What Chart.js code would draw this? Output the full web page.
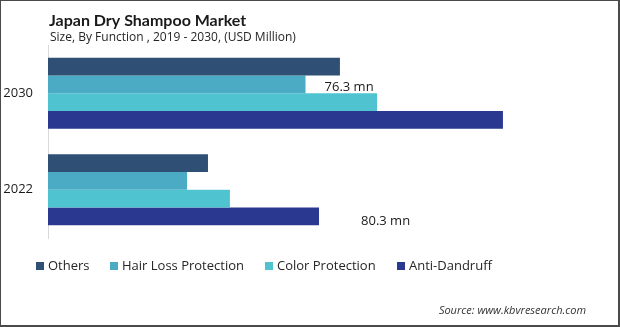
<!DOCTYPE html>
<html>
<head>
<meta charset="utf-8">
<script src="https://cdn.jsdelivr.net/npm/chart.js@4"></script>
<style>
  html, body { margin: 0; padding: 0; background: #fff; }
  #wrap { position: relative; width: 620px; height: 327px; box-sizing: border-box; }
  #frame { position: absolute; left: 0; top: 0; width: 620px; height: 327px; box-sizing: border-box;
           border-style: solid; border-color: #4a4a4a; border-width: 1px 2px 2px 1px; pointer-events: none; }
  canvas { position: absolute; left: 0; top: 0; }
</style>
</head>
<body>
<div id="wrap">
  <canvas id="c" width="620" height="327"></canvas>
  <div id="frame"></div>
</div>
<script>
// ---- data ----
const categories = ['2030', '2022'];
const seriesNames = ['Others', 'Hair Loss Protection', 'Color Protection', 'Anti-Dandruff'];
const others = [86.5, 47.4];
const hairLoss = [76.3, 41.2];
const colorProtection = [97.5, 53.9];
const antiDandruff = [134.8, 80.3];
const titleText = 'Japan Dry Shampoo Market';
const subtitleText = 'Size, By Function , 2019 - 2030, (USD Million)';
const sourceText = 'Source: www.kbvresearch.com';
const valueLabels = [
  { dataset: 1, index: 0, text: '76.3 mn' },
  { dataset: 3, index: 1, text: '80.3 mn' }
];

const colors = ['#2f4f75', '#4babc5', '#4fc4d0', '#2a388f'];
const FONT = '"Open Sans", "Noto Sans", sans-serif';

const overlay = {
  id: 'overlay',
  afterDraw(chart) {
    const ctx = chart.ctx;
    ctx.save();
    // titles
    ctx.textBaseline = 'alphabetic';
    ctx.textAlign = 'left';
    ctx.fillStyle = '#1a1a1a';
    ctx.font = 'bold 16px Lato, ' + FONT;
    ctx.fillText(titleText, 49, 26);
    ctx.fillStyle = '#262626';
    ctx.font = '12px ' + FONT;
    ctx.fillText(subtitleText, 50, 41);
    // source
    ctx.font = 'italic 11px ' + FONT;
    ctx.fillStyle = '#333';
    ctx.textAlign = 'right';
    ctx.fillText(sourceText, 586, 314);
    ctx.textAlign = 'left';
    // value labels
    ctx.font = '13px ' + FONT;
    ctx.fillStyle = '#1a1a1a';
    const offs = [{ dx: 19, dy: 6.5 }, { dx: 42, dy: 9 }];
    valueLabels.forEach((v, i) => {
      const bar = chart.getDatasetMeta(v.dataset).data[v.index];
      ctx.fillText(v.text, bar.x + offs[i].dx, bar.y + offs[i].dy);
    });
    // legend
    const xs = [36, 110, 265, 397];
    ctx.font = '13px ' + FONT;
    chart.data.datasets.forEach((ds, i) => {
      ctx.fillStyle = ds.backgroundColor;
      ctx.fillRect(xs[i], 262, 8, 8);
      ctx.fillStyle = '#262626';
      ctx.fillText(ds.label, xs[i] + 12, 270);
    });
    ctx.restore();
  }
};

new Chart(document.getElementById('c'), {
  type: 'bar',
  data: {
    labels: categories,
    datasets: [
      { label: seriesNames[0], data: others, backgroundColor: colors[0] },
      { label: seriesNames[1], data: hairLoss, backgroundColor: colors[1] },
      { label: seriesNames[2], data: colorProtection, backgroundColor: colors[2] },
      { label: seriesNames[3], data: antiDandruff, backgroundColor: colors[3] }
    ]
  },
  options: {
    indexAxis: 'y',
    responsive: false,
    animation: false,
    devicePixelRatio: 1,
    layout: { padding: { top: 45, bottom: 89, right: 32, left: 0 } },
    datasets: { bar: { categoryPercentage: 0.736, barPercentage: 1.0, borderWidth: 0 } },
    scales: {
      x: { display: false, min: 0, max: 160 },
      y: {
        grid: { display: false, drawTicks: false },
        border: { display: true, color: '#d9d9d9', width: 1 },
        ticks: { color: '#1a1a1a', font: { family: FONT, size: 13 }, padding: 15 },
        afterFit(scale) { scale.width = 48; }
      }
    },
    plugins: {
      legend: { display: false },
      tooltip: { enabled: false }
    }
  },
  plugins: [overlay]
});
</script>
</body>
</html>
